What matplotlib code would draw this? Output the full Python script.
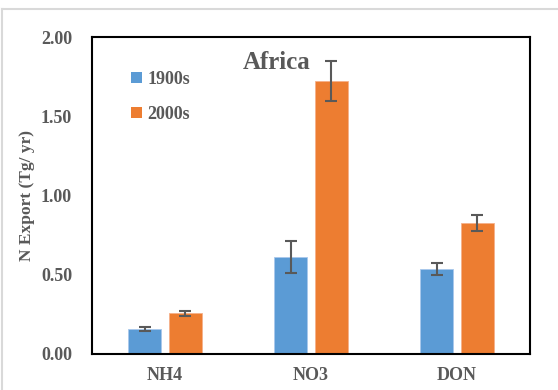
import matplotlib
matplotlib.use("Agg")
import matplotlib.pyplot as plt
import numpy as np
from matplotlib.lines import Line2D
from matplotlib.patches import Patch

categories = ["NH4", "NO3", "DON"]
series_names = ["1900s", "2000s"]
vals_1900s = [0.158, 0.614, 0.538]
err_1900s = [0.014, 0.100, 0.039]
vals_2000s = [0.257, 1.722, 0.824]
err_2000s = [0.017, 0.126, 0.050]

plt.rcParams['font.family'] = ['Liberation Serif', 'DejaVu Serif']
plt.rcParams['font.weight'] = 'bold'
gray = '#595959'
blue = '#5B9BD5'
orange = '#ED7D31'

fig = plt.figure(figsize=(5.58, 3.90), dpi=100)
ax = fig.add_axes([92/558, 1 - 354/390, (530-92)/558, (354-37)/390])

x = np.arange(len(categories))
w = 0.226
off = 0.14
ekw = dict(ecolor=gray, elinewidth=1.5, capsize=4, capthick=1.5)
ax.bar(x - off, vals_1900s, w, color=blue, edgecolor='#a9c8ec', linewidth=0.6,
       yerr=err_1900s, error_kw=ekw, label=series_names[0], zorder=2)
ax.bar(x + off, vals_2000s, w, color=orange, edgecolor='#f5b08a', linewidth=0.6,
       yerr=err_2000s, error_kw=ekw, label=series_names[1], zorder=2)

ax.set_xlim(-0.5, 2.5)
ax.set_ylim(0, 2.0)
yt = [0, 0.5, 1.0, 1.5, 2.0]
ax.set_yticks(yt)
ax.set_yticklabels([f"{v:.2f}" for v in yt])
ax.set_xticks(x)
ax.set_xticklabels(categories)
ax.tick_params(axis='both', length=0, labelsize=13, colors=gray)
ax.tick_params(axis='y', pad=14.4)
ax.tick_params(axis='x', pad=9)
for lab in ax.get_xticklabels() + ax.get_yticklabels():
    lab.set_fontweight('bold')
for s in ax.spines.values():
    s.set_color('black')
    s.set_linewidth(1.5)

ax.set_ylabel("N Export (Tg/ yr)", fontsize=12.5, fontweight='bold', color=gray, labelpad=4)

ax.text(0.422, 0.92, "Africa", transform=ax.transAxes, ha='center', va='center',
        fontsize=18, fontweight='bold', color=gray)

handles = [Patch(facecolor=blue), Patch(facecolor=orange)]
ax.legend(handles, series_names, loc='upper left', bbox_to_anchor=(0.052, 0.945),
          frameon=False, handlelength=0.6, handleheight=0.6,
          handletextpad=0.3, labelspacing=1.0, labelcolor=gray,
          prop={'weight': 'bold', 'size': 13})

# light outer frame
fig.add_artist(Line2D([1.5/558, 1], [1 - 9/390, 1 - 9/390], transform=fig.transFigure,
                      color='#d9d9d9', lw=1.5))
fig.add_artist(Line2D([1.5/558, 1.5/558], [0, 1 - 9/390], transform=fig.transFigure,
                      color='#d9d9d9', lw=1.5))

fig.savefig("out.png", dpi=100)
